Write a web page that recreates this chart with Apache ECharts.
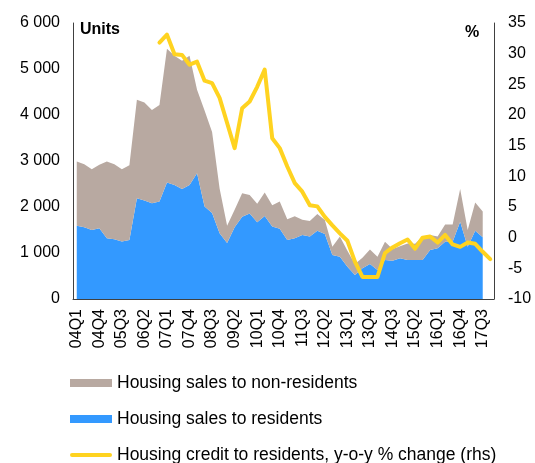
<!DOCTYPE html>
<html>
<head>
<meta charset="utf-8">
<script src="https://cdn.jsdelivr.net/npm/echarts@6/dist/echarts.min.js"></script>
<style>
  html, body { margin: 0; padding: 0; background: #fff; }
  #chart { width: 535px; height: 463px; }
</style>
</head>
<body>
<div id="chart"></div>
<script>
// quarters 04Q1 .. 17Q4
const quarters = [];
for (let y = 4; y <= 17; y++) {
    for (let q = 1; q <= 4; q++) {
        quarters.push((y < 10 ? '0' + y : '' + y) + 'Q' + q);
    }
}

// housing sales to residents (units)
const residents = [
    1590, 1560, 1500, 1540, 1320, 1300, 1250, 1285, 2190, 2140, 2080, 2120,
    2530, 2480, 2390, 2480, 2735, 2010, 1870, 1430, 1215, 1560, 1790, 1860,
    1670, 1806, 1574, 1527, 1284, 1320, 1393, 1356, 1486, 1414, 957, 921,
    703, 522, 667, 762, 631, 849, 834, 885, 849, 849, 849, 1066,
    1103, 1247, 1247, 1682, 1138, 1486, 1342, null
];

// housing sales to non-residents (units)
const nonResidents = [
    1400, 1370, 1320, 1380, 1670, 1630, 1570, 1625, 2140, 2130, 2030, 2100,
    2910, 2810, 2790, 2810, 1815, 2090, 1760, 970, 375, 380, 510, 403,
    400, 507, 466, 591, 450, 480, 332, 341, 364, 305, 181, 435,
    347, 238, 228, 313, 290, 398, 251, 260, 356, 351, 507, 327,
    253, 373, 373, 708, 362, 614, 558, null
];

// housing credit to residents, y-o-y % change
const credit = [
    null, null, null, null, null, null, null, null, null, null, null, 31.8,
    33.1, 29.9, 29.8, 28.2, 28.7, 25.6, 25.2, 22.8, 18.7, 14.6, 21.1, 22.2,
    24.6, 27.4, 16.2, 14.6, 11.6, 8.9, 7.5, 5.3, 5.1, 3.4, 2.0, 0.7,
    -0.5, -3.9, -6.4, -6.4, -6.4, -2.5, -1.6, -0.9, -0.3, -1.8, 0.0, 0.2,
    -0.8, 0.45, -1.1, -1.5, -0.8, -1.0, -2.3, -3.5
];

const font = 'Liberation Sans, Arial, sans-serif';
const axisColor = '#404040';

var chart = echarts.init(document.getElementById('chart'), null, { renderer: 'canvas' });

var option = {
    animation: false,
    grid: { left: 73, right: 41, top: 23, bottom: 164 },
    legend: {
        orient: 'vertical',
        left: 70,
        top: 374,
        height: 120,
        padding: 0,
        itemWidth: 42,
        itemHeight: 8,
        itemGap: 18,
        textStyle: { fontFamily: font, fontSize: 17.5, color: '#000', lineHeight: 18 },
        data: [
            { name: 'Housing sales to non-residents', icon: 'rect' },
            { name: 'Housing sales to residents', icon: 'rect' },
            { name: 'Housing credit to residents, y-o-y % change (rhs)', icon: 'path://M2,0 L40,0 A2,2 0 0 1 40,4 L2,4 A2,2 0 0 1 2,0 Z' }
        ]
    },
    graphic: [
        { type: 'text', left: 80, top: 22, style: { text: 'Units', font: 'bold 16px ' + font, fill: '#000' } },
        { type: 'text', left: 465, top: 25, style: { text: '%', font: 'bold 16px ' + font, fill: '#000' } }
    ],
    xAxis: {
        type: 'category',
        data: quarters,
        boundaryGap: true,
        axisLine: { lineStyle: { color: axisColor, width: 1 } },
        axisTick: { show: false },
        axisLabel: {
            rotate: 90,
            interval: 2,
            margin: 10,
            fontFamily: font,
            fontSize: 16,
            color: '#000'
        }
    },
    yAxis: [
        {
            type: 'value',
            min: 0,
            max: 6000,
            interval: 1000,
            splitLine: { show: false },
            axisLine: { show: true, lineStyle: { color: axisColor, width: 1 } },
            axisTick: { show: false },
            axisLabel: {
                margin: 13,
                fontFamily: font,
                fontSize: 16,
                color: '#000',
                formatter: v => String(v).replace(/\B(?=(\d{3})+(?!\d))/g, ' ')
            }
        },
        {
            type: 'value',
            min: -10,
            max: 35,
            interval: 5,
            position: 'right',
            splitLine: { show: false },
            axisLine: { show: true, lineStyle: { color: axisColor, width: 1 } },
            axisTick: { show: false },
            axisLabel: { margin: 14, fontFamily: font, fontSize: 16, color: '#000' }
        }
    ],
    series: [
        {
            name: 'Housing sales to residents',
            type: 'line',
            stack: 'sales',
            data: residents,
            symbol: 'none',
            lineStyle: { width: 0 },
            itemStyle: { color: '#3399FF' },
            areaStyle: { color: '#3399FF', opacity: 1 }
        },
        {
            name: 'Housing sales to non-residents',
            type: 'line',
            stack: 'sales',
            data: nonResidents,
            symbol: 'none',
            lineStyle: { width: 0 },
            itemStyle: { color: '#B8A9A1' },
            areaStyle: { color: '#B8A9A1', opacity: 1 }
        },
        {
            name: 'Housing credit to residents, y-o-y % change (rhs)',
            type: 'line',
            yAxisIndex: 1,
            data: credit,
            symbol: 'none',
            itemStyle: { color: '#FFD320' },
            lineStyle: { color: '#FFD320', width: 4, cap: 'round', join: 'round' }
        }
    ]
};

chart.setOption(option);
</script>
</body>
</html>
